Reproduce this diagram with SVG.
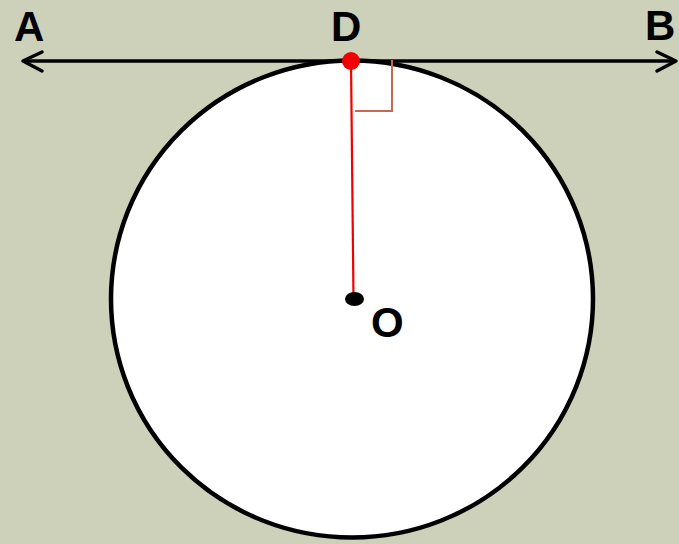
<svg xmlns="http://www.w3.org/2000/svg" width="679" height="544" viewBox="0 0 679 544">
<style>
.lbl{font-family:"Liberation Sans",Arial,sans-serif;font-weight:bold;font-size:42px;fill:#000}
.arr{fill:none;stroke:#000;stroke-width:3.5;stroke-linecap:round;stroke-linejoin:round}
</style>
<rect width="679" height="544" fill="#CDD1BA"/>
<g id="circle">
<ellipse cx="352" cy="299" rx="241" ry="238.5" fill="#fff" stroke="#000" stroke-width="4.5"/>
</g>
<g id="connectors">
<line x1="23" y1="61" x2="676" y2="61" stroke="#000" stroke-width="3.5"/>
<polyline class="arr" points="42,52 23,61 42,71"/>
<polyline class="arr" points="657,52 676,61 657,71"/>
<line x1="351" y1="61" x2="353.5" y2="298" stroke="#F00000" stroke-width="2.2"/>
<polyline points="392,60 392,111 355,111" fill="none" stroke="#C8684F" stroke-width="2"/>
</g>
<g id="center">
<ellipse cx="354.5" cy="299" rx="9.5" ry="7" fill="#000"/>
</g>
<g id="point-D">
<circle cx="351" cy="61" r="9" fill="#F00000"/>
</g>
<g id="labels">
<text class="lbl" x="14" y="41">A</text>
<text class="lbl" x="331" y="41">D</text>
<text class="lbl" x="645" y="40">B</text>
<text class="lbl" x="371" y="337">O</text>
</g>
</svg>
